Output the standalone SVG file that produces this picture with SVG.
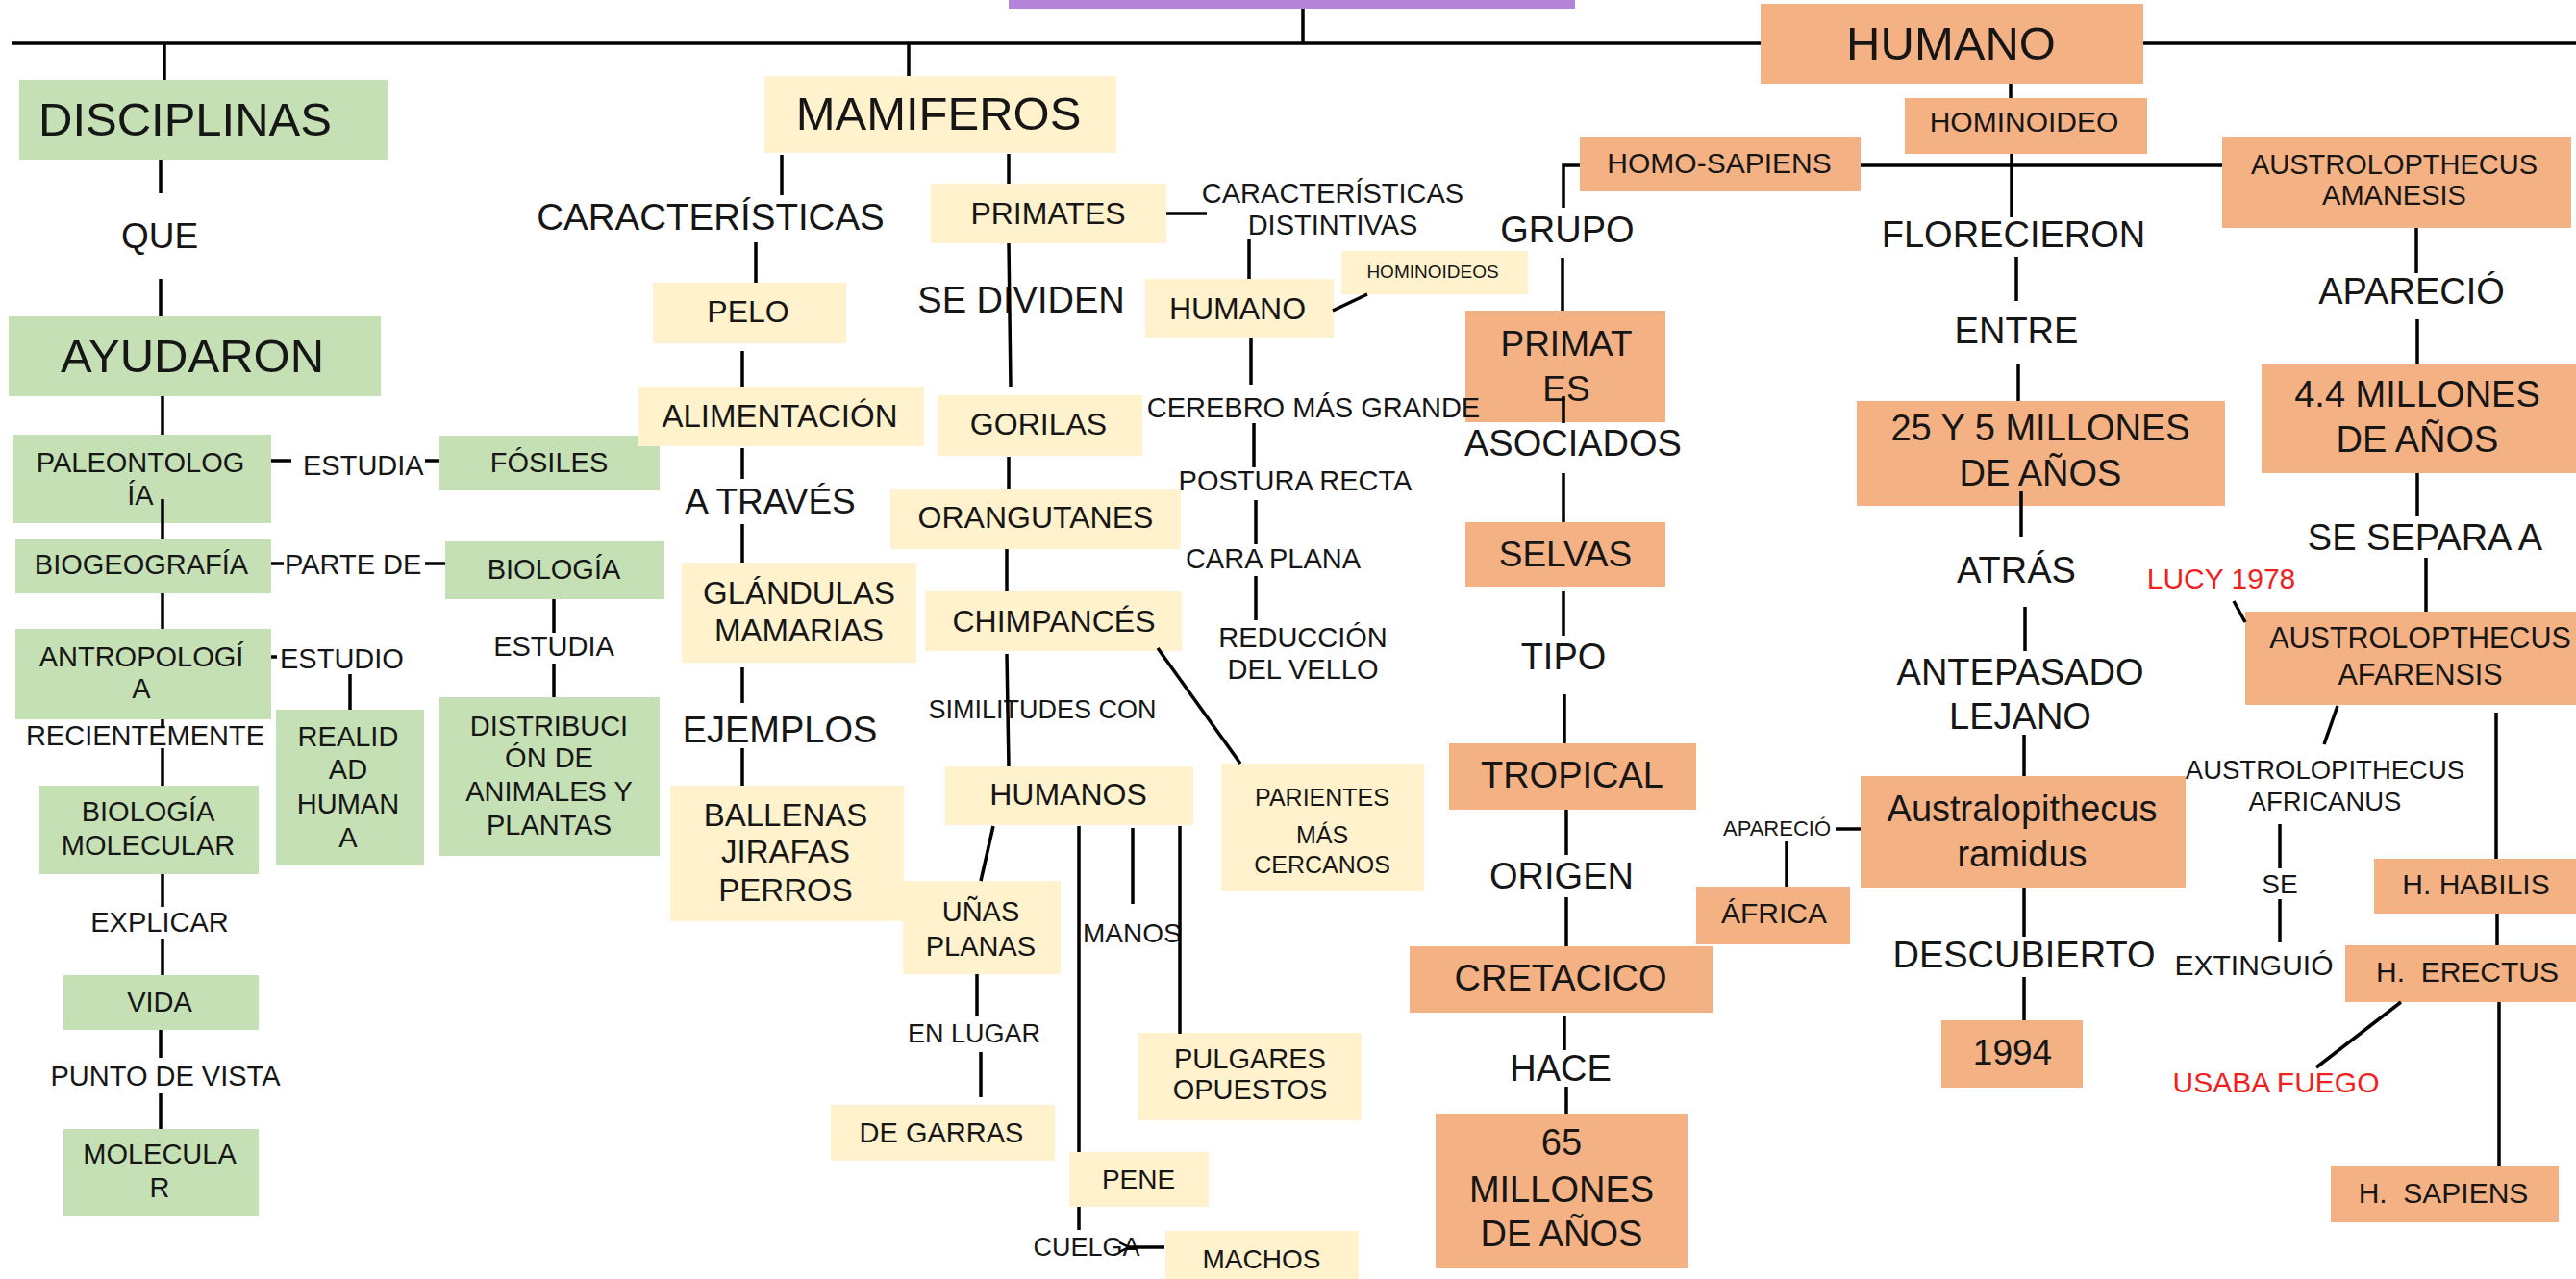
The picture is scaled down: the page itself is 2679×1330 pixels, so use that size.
<svg xmlns="http://www.w3.org/2000/svg" width="2679" height="1330" viewBox="0 0 2679 1330">
<defs>
<marker id="arr" viewBox="0 0 12 12" refX="1" refY="6" markerWidth="12" markerHeight="12" markerUnits="userSpaceOnUse" orient="auto-start-reverse">
<path d="M11 1 L1 6 L11 11" fill="none" stroke="#000" stroke-width="2.5"/>
</marker>
</defs>
<style>
text{font-family:"Liberation Sans",Arial,sans-serif;fill:#161616;text-anchor:middle}
.g{fill:#c5e0b4}.y{fill:#fff2cc}.o{fill:#f4b183}.p{fill:#b484d8}
.s19{font-size:19px}.s22{font-size:22px}.s25{font-size:25px}.s27{font-size:27px}.s28{font-size:28px}.s29{font-size:29px}.s30{font-size:30px}.s32{font-size:32px}.s33{font-size:33px}.s37{font-size:37px}.s38{font-size:38px}.s49{font-size:49px}
.red{fill:#f21f1f}.st{text-anchor:start}
#connectors path{fill:none;stroke:#000;stroke-width:3.5}
</style>
<rect width="2679" height="1330" fill="#fff"/>
<g id="n-top"><rect class="p" x="1049" y="-10" width="589" height="19"/></g>
<g id="n-disciplinas"><rect class="g" x="20" y="83" width="383" height="83"/><text class="s49 st" x="40" y="141">DISCIPLINAS</text></g>
<g id="l-que"><text class="s37" x="166" y="258">QUE</text></g>
<g id="n-ayudaron"><rect class="g" x="9" y="329" width="387" height="83"/><text class="s49" x="200" y="387">AYUDARON</text></g>
<g id="n-paleontologia"><rect class="g" x="13" y="452" width="269" height="92"/><text class="s29" x="146" y="491">PALEONTOLOG</text><text class="s29" x="146" y="525">ÍA</text></g>
<g id="l-estudia1"><text class="s29 st" x="315" y="494">ESTUDIA</text></g>
<g id="n-fosiles"><rect class="g" x="457" y="453" width="229" height="57"/><text class="s29" x="571" y="491">FÓSILES</text></g>
<g id="n-biogeografia"><rect class="g" x="16" y="561" width="266" height="56"/><text class="s29" x="147" y="597">BIOGEOGRAFÍA</text></g>
<g id="l-partede"><text class="s29 st" x="296" y="597">PARTE DE</text></g>
<g id="n-biologia"><rect class="g" x="463" y="563" width="228" height="60"/><text class="s29" x="576" y="602">BIOLOGÍA</text></g>
<g id="l-estudia2"><text class="s29" x="576" y="682">ESTUDIA</text></g>
<g id="n-antropologia"><rect class="g" x="16" y="654" width="266" height="94"/><text class="s29" x="147" y="693">ANTROPOLOGÍ</text><text class="s29" x="147" y="726">A</text></g>
<g id="l-estudio"><text class="s29 st" x="291" y="695">ESTUDIO</text></g>
<g id="n-realidad"><rect class="g" x="287" y="738" width="154" height="162"/><text class="s29" x="362" y="776">REALID</text><text class="s29" x="362" y="810">AD</text><text class="s29" x="362" y="846">HUMAN</text><text class="s29" x="362" y="881">A</text></g>
<g id="n-distribucion"><rect class="g" x="457" y="725" width="229" height="165"/><text class="s29" x="571" y="765">DISTRIBUCI</text><text class="s29" x="571" y="798">ÓN DE</text><text class="s29" x="571" y="833">ANIMALES Y</text><text class="s29" x="571" y="868">PLANTAS</text></g>
<g id="l-recientemente"><text class="s29" x="151" y="775">RECIENTEMENTE</text></g>
<g id="n-biologiamolecular"><rect class="g" x="41" y="817" width="228" height="92"/><text class="s29" x="154" y="854">BIOLOGÍA</text><text class="s29" x="154" y="889">MOLECULAR</text></g>
<g id="l-explicar"><text class="s29" x="166" y="969">EXPLICAR</text></g>
<g id="n-vida"><rect class="g" x="66" y="1014" width="203" height="57"/><text class="s29" x="166" y="1052">VIDA</text></g>
<g id="l-puntodevista"><text class="s29" x="172" y="1129">PUNTO DE VISTA</text></g>
<g id="n-molecular"><rect class="g" x="66" y="1174" width="203" height="91"/><text class="s29" x="166" y="1210">MOLECULA</text><text class="s29" x="166" y="1245">R</text></g>

<g id="n-mamiferos"><rect class="y" x="795" y="79" width="366" height="80"/><text class="s49" x="976" y="135">MAMIFEROS</text></g>
<g id="l-caracteristicas"><text x="739" y="239" style="font-size:38.5px">CARACTERÍSTICAS</text></g>
<g id="n-pelo"><rect class="y" x="679" y="294" width="201" height="63"/><text class="s32" x="778" y="335">PELO</text></g>
<g id="n-alimentacion"><rect class="y" x="664" y="402" width="297" height="62"/><text class="s33" x="811" y="444">ALIMENTACIÓN</text></g>
<g id="l-atraves"><text class="s37" x="801" y="534">A TRAVÉS</text></g>
<g id="n-glandulas"><rect class="y" x="709" y="585" width="244" height="104"/><text class="s33" x="831" y="628">GLÁNDULAS</text><text class="s33" x="831" y="667">MAMARIAS</text></g>
<g id="l-ejemplos"><text class="s38" x="811" y="772">EJEMPLOS</text></g>
<g id="n-ballenas"><rect class="y" x="697" y="817" width="243" height="141"/><text class="s33" x="817" y="859">BALLENAS</text><text class="s33" x="817" y="897">JIRAFAS</text><text class="s33" x="817" y="937">PERROS</text></g>
<g id="n-primates"><rect class="y" x="968" y="191" width="245" height="62"/><text class="s32" x="1090" y="233">PRIMATES</text></g>
<g id="l-sedividen"><text class="s38" x="1062" y="325">SE DIVIDEN</text></g>
<g id="n-gorilas"><rect class="y" x="975" y="411" width="213" height="63"/><text class="s32" x="1080" y="452">GORILAS</text></g>
<g id="n-orangutanes"><rect class="y" x="926" y="509" width="302" height="62"/><text class="s32" x="1077" y="549">ORANGUTANES</text></g>
<g id="n-chimpances"><rect class="y" x="962" y="615" width="267" height="62"/><text class="s32" x="1096" y="657">CHIMPANCÉS</text></g>
<g id="l-similitudes"><text class="s27" x="1084" y="747">SIMILITUDES CON</text></g>
<g id="n-humanos"><rect class="y" x="983" y="797" width="258" height="61"/><text class="s32" x="1111" y="837">HUMANOS</text></g>
<g id="n-parientes"><rect class="y" x="1270" y="794" width="211" height="133"/><text class="s25" x="1375" y="838">PARIENTES</text><text class="s25" x="1375" y="877">MÁS</text><text class="s25" x="1375" y="908">CERCANOS</text></g>
<g id="n-unas"><rect class="y" x="939" y="916" width="164" height="97"/><text class="s29" x="1020" y="958">UÑAS</text><text class="s29" x="1020" y="994">PLANAS</text></g>
<g id="l-manos"><text class="s28 st" x="1126" y="980">MANOS</text></g>
<g id="l-enlugar"><text class="s27" x="1013" y="1084">EN LUGAR</text></g>
<g id="n-degarras"><rect class="y" x="864" y="1149" width="233" height="58"/><text class="s29" x="979" y="1188">DE GARRAS</text></g>
<g id="n-pulgares"><rect class="y" x="1184" y="1074" width="232" height="91"/><text class="s29" x="1300" y="1111">PULGARES</text><text class="s29" x="1300" y="1143">OPUESTOS</text></g>
<g id="n-pene"><rect class="y" x="1112" y="1198" width="145" height="57"/><text class="s28" x="1184" y="1236">PENE</text></g>
<g id="l-cuelga"><text class="s27" x="1130" y="1306">CUELGA</text></g>
<g id="n-machos"><rect class="y" x="1212" y="1280" width="201" height="60"/><text class="s28" x="1312" y="1319">MACHOS</text></g>
<g id="l-caracdist"><text class="s29" x="1386" y="211">CARACTERÍSTICAS</text><text class="s29" x="1386" y="244">DISTINTIVAS</text></g>
<g id="n-humano-y"><rect class="y" x="1191" y="290" width="196" height="61"/><text class="s32" x="1287" y="332">HUMANO</text></g>
<g id="n-hominoideos"><rect class="y" x="1395" y="261" width="194" height="45"/><text class="s19" x="1490" y="289">HOMINOIDEOS</text></g>
<g id="l-postura"><text class="s29" x="1347" y="510">POSTURA RECTA</text></g>
<g id="l-caraplana"><text class="s29" x="1324" y="591">CARA PLANA</text></g>
<g id="l-reduccion"><text class="s29" x="1355" y="673">REDUCCIÓN</text><text class="s29" x="1355" y="706">DEL VELLO</text></g>

<g id="n-humano"><rect class="o" x="1831" y="4" width="398" height="83"/><text class="s49" x="2029" y="62">HUMANO</text></g>
<g id="n-hominoideo"><rect class="o" x="1981" y="102" width="252" height="58"/><text class="s30" x="2105" y="137">HOMINOIDEO</text></g>
<g id="n-homosapiens"><rect class="o" x="1643" y="142" width="292" height="57"/><text class="s30" x="1788" y="180">HOMO-SAPIENS</text></g>
<g id="n-amanesis"><rect class="o" x="2311" y="142" width="363" height="95"/><text class="s29" x="2490" y="181">AUSTROLOPTHECUS</text><text class="s29" x="2490" y="213">AMANESIS</text></g>
<g id="l-grupo"><text class="s38" x="1630" y="252">GRUPO</text></g>
<g id="n-primates-o"><rect class="o" x="1524" y="323" width="208" height="116"/><text class="s37" x="1629" y="370">PRIMAT</text><text class="s37" x="1629" y="417">ES</text></g>
<g id="l-cerebro"><text class="s29" x="1366" y="434">CEREBRO MÁS GRANDE</text></g>
<g id="l-asociados"><text class="s38" x="1636" y="474">ASOCIADOS</text></g>
<g id="n-selvas"><rect class="o" x="1524" y="543" width="208" height="67"/><text class="s37" x="1628" y="589">SELVAS</text></g>
<g id="l-tipo"><text class="s38" x="1626" y="696">TIPO</text></g>
<g id="n-tropical"><rect class="o" x="1507" y="773" width="257" height="69"/><text class="s38" x="1635" y="819">TROPICAL</text></g>
<g id="l-origen"><text class="s38" x="1624" y="924">ORIGEN</text></g>
<g id="n-cretacico"><rect class="o" x="1466" y="984" width="315" height="69"/><text class="s38" x="1623" y="1030">CRETACICO</text></g>
<g id="l-hace"><text class="s38" x="1623" y="1124">HACE</text></g>
<g id="n-65"><rect class="o" x="1493" y="1158" width="262" height="161"/><text class="s38" x="1624" y="1201">65</text><text class="s38" x="1624" y="1250">MILLONES</text><text class="s38" x="1624" y="1296">DE AÑOS</text></g>
<g id="l-florecieron"><text class="s38" x="2094" y="257">FLORECIERON</text></g>
<g id="l-entre"><text class="s38" x="2097" y="357">ENTRE</text></g>
<g id="n-25y5"><rect class="o" x="1931" y="417" width="383" height="109"/><text class="s38" x="2122" y="458">25 Y 5 MILLONES</text><text class="s38" x="2122" y="505">DE AÑOS</text></g>
<g id="l-atras"><text class="s38" x="2097" y="606">ATRÁS</text></g>
<g id="l-antepasado"><text class="s38" x="2101" y="712">ANTEPASADO</text><text class="s38" x="2101" y="758">LEJANO</text></g>
<g id="n-ramidus"><rect class="o" x="1935" y="807" width="338" height="116"/><text class="s38" x="2103" y="854">Australopithecus</text><text class="s38" x="2103" y="901">ramidus</text></g>
<g id="l-aparecio1"><text class="s22" x="1848" y="869">APARECIÓ</text></g>
<g id="n-africa"><rect class="o" x="1764" y="922" width="160" height="60"/><text class="s30" x="1845" y="960">ÁFRICA</text></g>
<g id="l-descubierto"><text class="s38" x="2105" y="1006">DESCUBIERTO</text></g>
<g id="n-1994"><rect class="o" x="2019" y="1061" width="147" height="70"/><text class="s37" x="2093" y="1107">1994</text></g>
<g id="l-aparecio2"><text class="s38" x="2508" y="316">APARECIÓ</text></g>
<g id="n-44"><rect class="o" x="2352" y="378" width="327" height="114"/><text class="s38" x="2514" y="423">4.4 MILLONES</text><text class="s38" x="2514" y="470">DE AÑOS</text></g>
<g id="l-sesepara"><text class="s38" x="2522" y="572">SE SEPARA A</text></g>
<g id="l-lucy"><text class="s30 red" x="2310" y="612">LUCY 1978</text></g>
<g id="n-afarensis"><rect class="o" x="2335" y="636" width="344" height="97"/><text x="2517" y="674" style="font-size:30.5px">AUSTROLOPTHECUS</text><text x="2517" y="712" style="font-size:30.5px">AFARENSIS</text></g>
<g id="l-africanus"><text x="2418" y="810" style="font-size:27.5px">AUSTROLOPITHECUS</text><text x="2418" y="843" style="font-size:27.5px">AFRICANUS</text></g>
<g id="l-se"><text class="s28" x="2371" y="929">SE</text></g>
<g id="l-extinguio"><text class="s30" x="2344" y="1014">EXTINGUIÓ</text></g>
<g id="n-habilis"><rect class="o" x="2469" y="893" width="210" height="57"/><text class="s30" x="2575" y="930">H. HABILIS</text></g>
<g id="n-erectus"><rect class="o" x="2439" y="983" width="240" height="59"/><text class="s30" x="2566" y="1021">H.&#160; ERECTUS</text></g>
<g id="l-usaba"><text class="s30 red" x="2367" y="1136">USABA FUEGO</text></g>
<g id="n-sapiens"><rect class="o" x="2424" y="1212" width="237" height="59"/><text class="s30" x="2541" y="1251">H.&#160; SAPIENS</text></g>

<g id="connectors">
<path d="M12 45 H1831 M2229 45 H2679 M171 45 V83 M945 45 V79 M1355 9 V45"/>
<path d="M167 166 V201 M167 290 V329 M169 412 V452 M282 479 H303 M442 479 H457 M169 519 V561 M282 586 H295 M442 586 H463 M576 623 V658 M169 617 V654 M282 683 H288 M364 701 V738 M576 690 V725 M169 748 V757 M169 778 V817 M169 909 V943 M169 976 V1014 M167 1071 V1100 M167 1137 V1174"/>
<path d="M813 161 V203 M786 252 V294 M772 365 V402 M772 466 V498 M772 545 V585 M772 694 V731 M772 778 V817"/>
<path d="M1049 160 V191 M1213 222 H1255 M1049 253 L1051 402 M1049 475 V509 M1047 571 V615 M1047 680 L1049 797 M1204 674 L1290 794 M1033 859 L1020 916 M1122 859 V1198 M1178 861 V940 M1227 859 V1075 M1016 1013 V1057 M1020 1094 V1141 M1122 1255 V1279"/>
<path d="M1211 1297 H1174" marker-end="url(#arr)"/>
<path d="M1299 249 V290 M1386 323 L1422 306 M1301 351 V400 M1304 440 V486 M1306 520 V566 M1306 599 V645"/>
<path d="M1643 172 H1626 V216 M1625 268 V323 M1626 412 V440 M1626 492 V543 M1626 615 V661 M1627 722 V773 M1629 842 V889 M1629 933 V984 M1627 1057 V1092 M1629 1130 V1158"/>
<path d="M2091 87 V102 M1935 172 H2311 M2092 160 V226 M2097 267 V313 M2099 379 V417 M2102 511 V558 M2106 631 V677 M2105 764 V807 M1909 862 H1935 M1858 875 V922 M2105 923 V974 M2105 1016 V1061"/>
<path d="M2513 237 V284 M2514 332 V378 M2514 492 V537 M2523 580 V636 M2323 625 L2335 647 M2431 734 L2417 774 M2371 857 V903 M2371 935 V980 M2596 741 V893 M2597 950 V983 M2497 1042 L2409 1110 M2599 1042 V1212"/>
</g>
</svg>
